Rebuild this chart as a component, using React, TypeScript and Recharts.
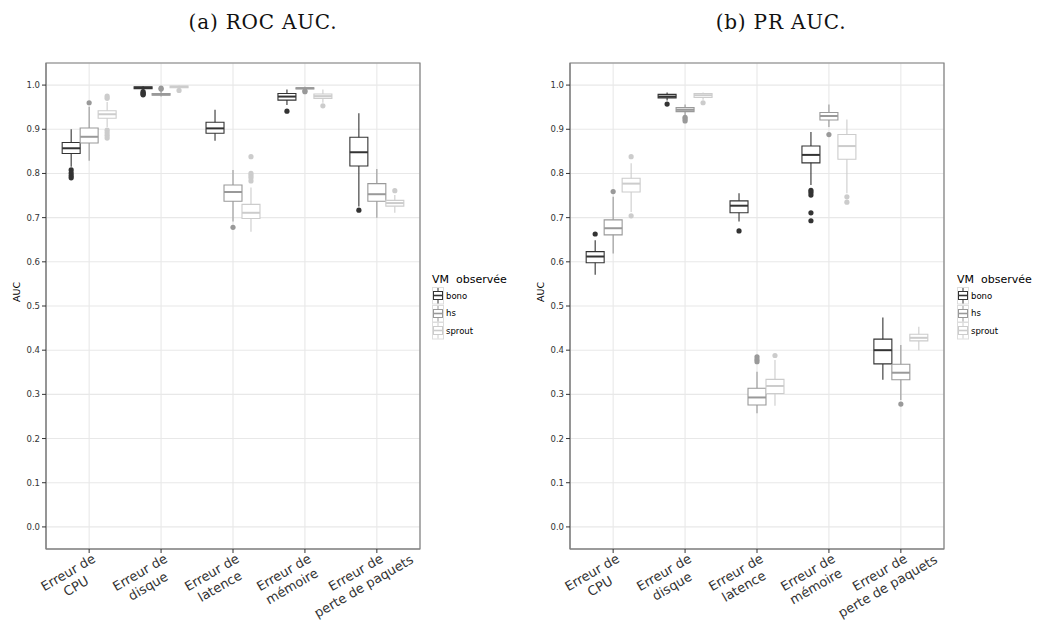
import React from 'react';
import {
  ComposedChart,
  XAxis,
  YAxis,
  CartesianGrid,
  ReferenceArea,
  ReferenceLine,
  Scatter
} from 'recharts';

// x categories (two lines each)
const categoryLine1 = ['Erreur de', 'Erreur de', 'Erreur de', 'Erreur de', 'Erreur de'];
const categoryLine2 = ['CPU', 'disque', 'latence', 'mémoire', 'perte de paquets'];
const categoryTicks = [1, 2, 3, 4, 5];

const groupNames = ['bono', 'hs', 'sprout'];
const groupColors = ['#333333', '#999999', '#cccccc'];

const yTicks = [0, 0.1, 0.2, 0.3, 0.4, 0.5, 0.6, 0.7, 0.8, 0.9, 1.0];
const yMinorTicks = [0.05, 0.15, 0.25, 0.35, 0.45, 0.55, 0.65, 0.75, 0.85, 0.95];

// box stats per category: [lower whisker, q1, median, q3, upper whisker]
const rocBono = [
  [0.815, 0.845, 0.857, 0.870, 0.900],
  [0.988, 0.992, 0.994, 0.996, 0.998],
  [0.874, 0.891, 0.902, 0.916, 0.944],
  [0.955, 0.966, 0.974, 0.981, 0.990],
  [0.725, 0.817, 0.848, 0.882, 0.936]
];
const rocHs = [
  [0.829, 0.869, 0.883, 0.903, 0.951],
  [0.974, 0.977, 0.979, 0.981, 0.988],
  [0.691, 0.737, 0.758, 0.774, 0.808],
  [0.989, 0.991, 0.993, 0.994, 0.996],
  [0.700, 0.737, 0.753, 0.777, 0.810]
];
const rocSprout = [
  [0.905, 0.925, 0.934, 0.942, 0.962],
  [0.992, 0.994, 0.996, 0.998, 0.999],
  [0.668, 0.698, 0.711, 0.730, 0.768],
  [0.960, 0.970, 0.975, 0.980, 0.990],
  [0.711, 0.726, 0.733, 0.739, 0.751]
];
const rocBonoOut = [[0.808, 0.801, 0.795, 0.790], [0.985, 0.982, 0.980, 0.978], [], [0.941], [0.717]];
const rocHsOut = [[0.960], [0.991, 0.993], [0.678], [0.985, 0.987], []];
const rocSproutOut = [[0.975, 0.970, 0.898, 0.892, 0.886, 0.880], [0.988], [0.838, 0.800, 0.795, 0.790, 0.783], [0.953], [0.761]];

const prBono = [
  [0.571, 0.598, 0.612, 0.623, 0.649],
  [0.965, 0.971, 0.974, 0.979, 0.983],
  [0.691, 0.711, 0.727, 0.738, 0.755],
  [0.774, 0.824, 0.842, 0.862, 0.894],
  [0.333, 0.369, 0.400, 0.425, 0.474]
];
const prHs = [
  [0.619, 0.661, 0.676, 0.695, 0.747],
  [0.932, 0.940, 0.944, 0.949, 0.956],
  [0.257, 0.276, 0.293, 0.314, 0.351],
  [0.905, 0.921, 0.930, 0.938, 0.956],
  [0.287, 0.333, 0.349, 0.368, 0.412]
];
const prSprout = [
  [0.713, 0.758, 0.777, 0.789, 0.823],
  [0.967, 0.972, 0.977, 0.981, 0.983],
  [0.274, 0.302, 0.319, 0.334, 0.378],
  [0.755, 0.832, 0.862, 0.888, 0.922],
  [0.400, 0.421, 0.428, 0.436, 0.453]
];
const prBonoOut = [[0.663], [0.957], [0.670], [0.762, 0.757, 0.751, 0.711, 0.693], []];
const prHsOut = [[0.759], [0.927, 0.923, 0.919], [0.385, 0.379, 0.374], [0.888], [0.278]];
const prSproutOut = [[0.838, 0.704], [0.960], [0.388], [0.747, 0.735], []];

const DODGE = 0.25;
const HALF = 0.125;

const FONT = 'DejaVu Sans';

const CatTick = (props: any) => {
  const { x, y, payload } = props;
  const i = Math.round(payload.value) - 1;
  return (
    <g transform={`translate(${x},${y}) rotate(-30)`}>
      <text x={-27} y={9} textAnchor="middle" fontSize={13} fill="#333" fontFamily={FONT}>
        {categoryLine1[i]}
      </text>
      <text x={-27} y={25} textAnchor="middle" fontSize={13} fill="#333" fontFamily={FONT}>
        {categoryLine2[i]}
      </text>
    </g>
  );
};

function boxMarks(stats: number[][][], prefix: string) {
  const marks: React.ReactNode[] = [];
  stats.forEach((series, g) => {
    const color = groupColors[g];
    series.forEach(([lo, q1, med, q3, hi], c) => {
      const x = c + 1 + (g - 1) * DODGE;
      const k = `${prefix}-${g}-${c}`;
      marks.push(
        <ReferenceLine key={k + 'wh'} segment={[{ x, y: q3 }, { x, y: hi }]} stroke={color} strokeWidth={1.1} />,
        <ReferenceLine key={k + 'wl'} segment={[{ x, y: lo }, { x, y: q1 }]} stroke={color} strokeWidth={1.1} />,
        <ReferenceArea
          key={k + 'b'}
          x1={x - HALF}
          x2={x + HALF}
          y1={q1}
          y2={q3}
          fill="#ffffff"
          fillOpacity={1}
          stroke={color}
          strokeWidth={1.1}
        />,
        <ReferenceLine
          key={k + 'm'}
          segment={[{ x: x - HALF, y: med }, { x: x + HALF, y: med }]}
          stroke={color}
          strokeWidth={2}
        />
      );
    });
  });
  return marks;
}

function outlierPoints(outliers: number[][], g: number) {
  return outliers.flatMap((vals, c) => vals.map((v) => ({ x: c + 1 + (g - 1) * DODGE, y: v })));
}

interface PanelProps {
  stats: number[][][];
  outliers: number[][][];
  width: number;
  marginLeft: number;
  marginRight: number;
  prefix: string;
}

const BoxPanel = ({ stats, outliers, width, marginLeft, marginRight, prefix }: PanelProps) => (
  <ComposedChart
    width={width}
    height={627}
    margin={{ top: 63, right: marginRight, bottom: 8, left: marginLeft }}
    style={{ fontFamily: FONT }}
  >
    <CartesianGrid
      vertical={false}
      stroke="#f4f4f4"
      strokeWidth={0.6}
      horizontalCoordinatesGenerator={({ yAxis }: any) =>
        yAxis && typeof yAxis.scale === 'function' ? yMinorTicks.map((t) => yAxis.scale(t)) : []
      }
    />
    <CartesianGrid stroke="#e8e8e8" strokeWidth={1.1} />
    <XAxis
      type="number"
      dataKey="x"
      domain={[0.4, 5.6]}
      ticks={categoryTicks}
      interval={0}
      allowDataOverflow
      height={70}
      tick={<CatTick />}
      tickSize={4}
      tickLine={{ stroke: '#333' }}
      axisLine={{ stroke: '#7f7f7f' }}
    />
    <YAxis
      type="number"
      dataKey="y"
      domain={[-0.05, 1.05]}
      ticks={yTicks}
      interval={0}
      allowDataOverflow
      width={30}
      tickSize={4}
      tickFormatter={(v: number) => v.toFixed(1)}
      tick={{ fontSize: 8.5, fill: '#333', fontFamily: FONT }}
      tickLine={{ stroke: '#333' }}
      axisLine={{ stroke: '#7f7f7f' }}
    />
    {boxMarks(stats, prefix)}
    {outliers.map((o, g) => (
      <Scatter
        key={`${prefix}-out-${g}`}
        data={outlierPoints(o, g)}
        dataKey="y"
        isAnimationActive={false}
        shape={(p: any) => <circle cx={p.cx} cy={p.cy} r={2.6} fill={groupColors[g]} />}
      />
    ))}
    <ReferenceArea x1={0.4} x2={5.6} y1={-0.05} y2={1.05} fill="none" stroke="#7f7f7f" strokeWidth={1.2} />
  </ComposedChart>
);

const LegendBlock = ({ left }: { left: number }) => (
  <div style={{ position: 'absolute', left, top: 273, fontFamily: FONT, color: '#000' }}>
    <div style={{ fontSize: 11, lineHeight: '14px', whiteSpace: 'pre' }}>VM  observée</div>
    {groupNames.map((name, g) => (
      <div key={name} style={{ display: 'flex', alignItems: 'center', height: 17.5 }}>
        <svg width={12} height={17.5}>
          <rect x={0.5} y={0.5} width={11} height={16.5} fill="#ffffff" stroke="#dddddd" />
          <line x1={6} x2={6} y1={1} y2={4.5} stroke={groupColors[g]} />
          <line x1={6} x2={6} y1={12.5} y2={16.5} stroke={groupColors[g]} />
          <rect x={1.5} y={4.5} width={9} height={8} fill="#ffffff" stroke={groupColors[g]} />
          <line x1={1.5} x2={10.5} y1={8.5} y2={8.5} stroke={groupColors[g]} strokeWidth={1.6} />
        </svg>
        <span style={{ fontSize: 8.5, marginLeft: 2 }}>{name}</span>
      </div>
    ))}
  </div>
);

const AxisTitle = ({ left }: { left: number }) => (
  <div
    style={{
      position: 'absolute',
      left,
      top: 292,
      transform: 'translate(-50%, -50%) rotate(-90deg)',
      fontFamily: FONT,
      fontSize: 9.5,
      color: '#000'
    }}
  >
    AUC
  </div>
);

const Title = ({ text, center }: { text: string; center: number }) => (
  <div
    style={{
      position: 'absolute',
      left: center,
      top: 10,
      transform: 'translateX(-50%)',
      fontFamily: 'DejaVu Serif',
      fontSize: 20,
      letterSpacing: 0.8,
      whiteSpace: 'nowrap',
      color: '#111'
    }}
  >
    {text}
  </div>
);

export default function App() {
  return (
    <div style={{ position: 'absolute', left: 0, top: 0, width: 1037, height: 627, background: '#fff' }}>
      <Title text="(a) ROC AUC." center={263} />
      <Title text="(b) PR AUC." center={781} />
      <div style={{ position: 'absolute', left: 0, top: 0 }}>
        <BoxPanel
          stats={[rocBono, rocHs, rocSprout]}
          outliers={[rocBonoOut, rocHsOut, rocSproutOut]}
          width={520}
          marginLeft={16}
          marginRight={100}
          prefix="roc"
        />
      </div>
      <div style={{ position: 'absolute', left: 520, top: 0 }}>
        <BoxPanel
          stats={[prBono, prHs, prSprout]}
          outliers={[prBonoOut, prHsOut, prSproutOut]}
          width={517}
          marginLeft={20}
          marginRight={93}
          prefix="pr"
        />
      </div>
      <AxisTitle left={16} />
      <AxisTitle left={540} />
      <LegendBlock left={432} />
      <LegendBlock left={957} />
    </div>
  );
}
